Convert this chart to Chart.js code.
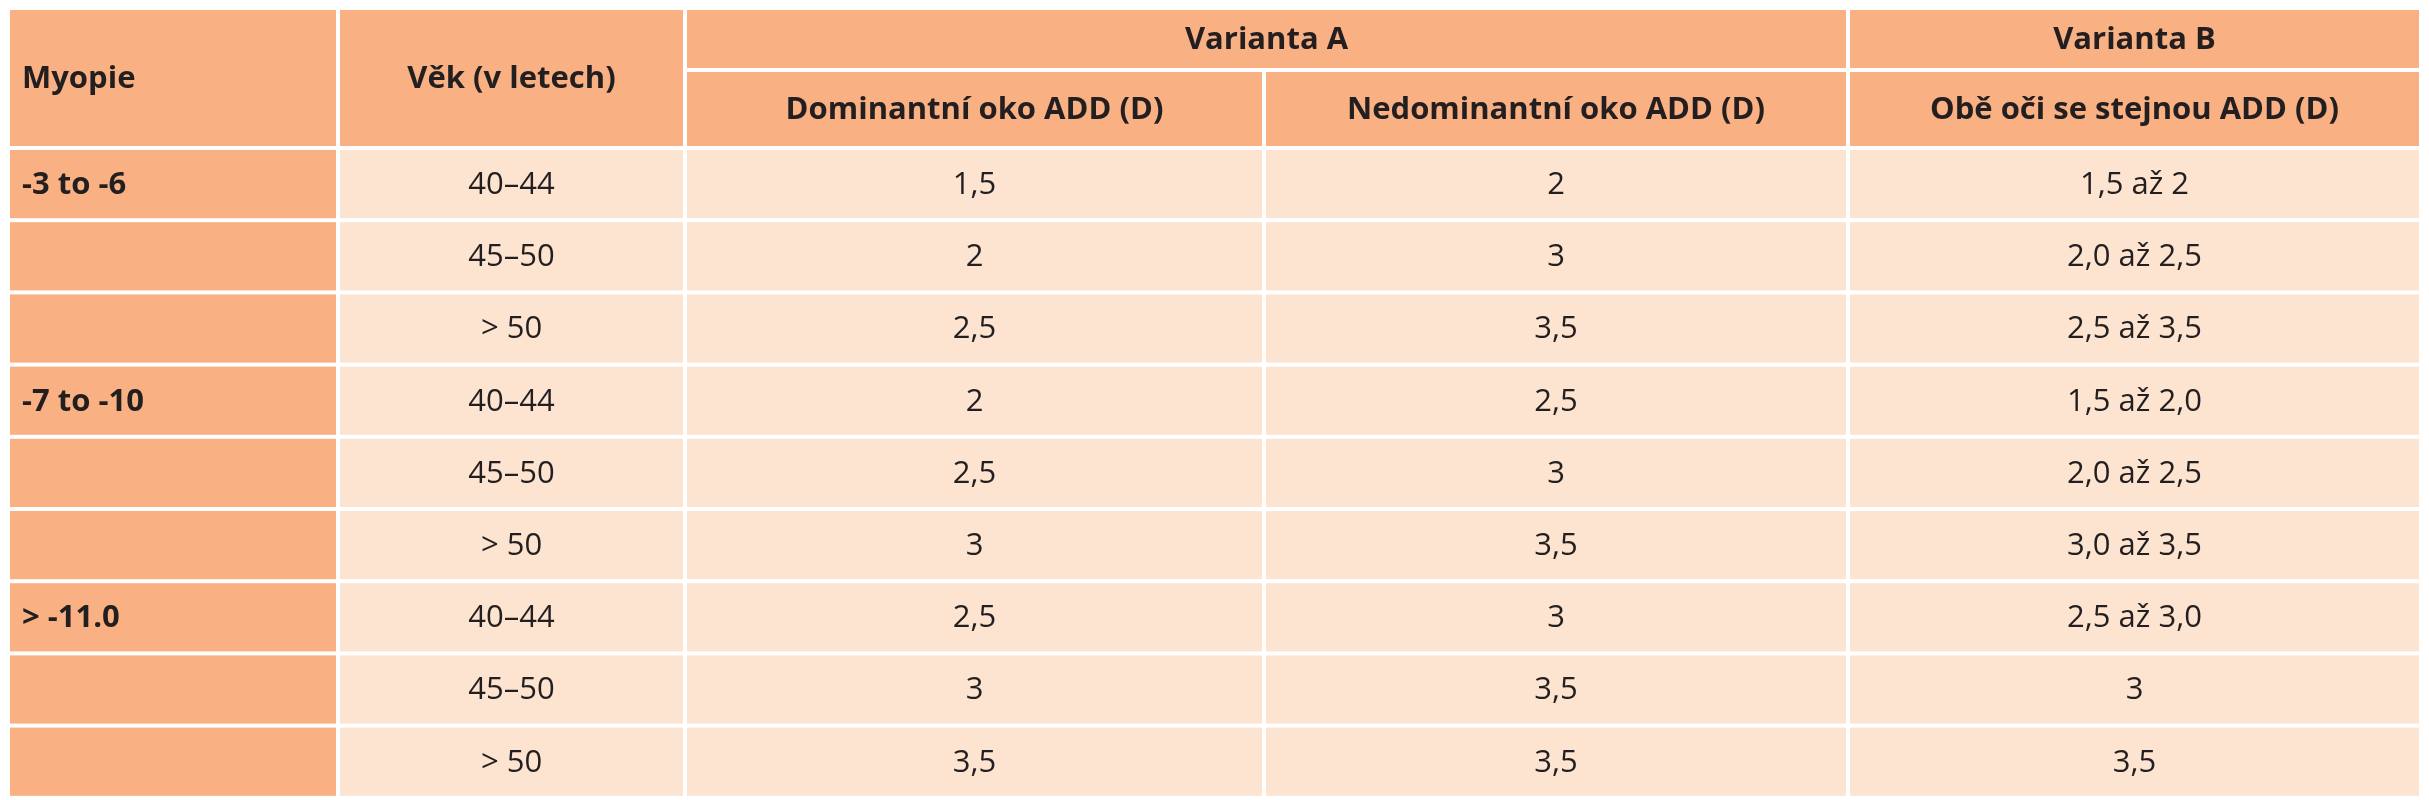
<!DOCTYPE html>
<html><head><meta charset="utf-8">
<script src="https://cdn.jsdelivr.net/npm/chart.js@4"></script>
<style>html,body{margin:0;background:#fff}#wrap{width:2429px;height:800px}</style>
</head><body><div id="wrap"><canvas id="chart"></canvas></div>
<script>
// table content
var groupHeaders = ['Varianta A', 'Varianta B'];
var colHeaders = ['Myopie', 'Věk (v letech)', 'Dominantní oko ADD (D)', 'Nedominantní oko ADD (D)', 'Obě oči se stejnou ADD (D)'];
var myopia = ['-3 to -6', '', '', '-7 to -10', '', '', '> -11.0', '', ''];
var ages = ['40–44', '45–50', '> 50', '40–44', '45–50', '> 50', '40–44', '45–50', '> 50'];
var dominant = ['1,5', '2', '2,5', '2', '2,5', '3', '2,5', '3', '3,5'];
var nondominant = ['2', '3', '3,5', '2,5', '3', '3,5', '3', '3,5', '3,5'];
var both = ['1,5 až 2', '2,0 až 2,5', '2,5 až 3,5', '1,5 až 2,0', '2,0 až 2,5', '3,0 až 3,5', '2,5 až 3,0', '3', '3,5'];

// grid edges (scale units)
var colEdges = [8, 338, 685, 1264, 1848, 2421];
var rowEdges = [8, 70, 148];
for (var i = 1; i <= 9; i++) rowEdges.push(148 + i * 72.2);

var dark = '#F9B183', light = '#FDE4D0', ink = '#231f20';
var font = '"Liberation Sans Narrow", "Open Sans", sans-serif';

var tablePlugin = {
  id: 'table',
  afterDraw: function(chart) {
    var ctx = chart.ctx, xs = chart.scales.x, ys = chart.scales.y;
    function cell(c0, c1, r0, r1, fill, text, bold, align) {
      var x0 = xs.getPixelForValue(colEdges[c0]), x1 = xs.getPixelForValue(colEdges[c1]);
      var y0 = ys.getPixelForValue(rowEdges[r0]), y1 = ys.getPixelForValue(rowEdges[r1]);
      ctx.fillStyle = fill;
      ctx.fillRect(x0 + 2, y0 + 2, x1 - x0 - 4, y1 - y0 - 4);
      if (!text) return;
      ctx.fillStyle = ink;
      ctx.font = (bold ? 'bold ' : '') + '31px ' + font;
      ctx.textBaseline = 'middle';
      ctx.textAlign = align || 'center';
      var tx = align === 'left' ? x0 + 14 : (x0 + x1) / 2;
      ctx.fillText(text, tx, (y0 + y1) / 2 + 1);
    }
    ctx.save();
    cell(0, 1, 0, 2, dark, colHeaders[0], true, 'left');
    cell(1, 2, 0, 2, dark, colHeaders[1], true);
    cell(2, 4, 0, 1, dark, groupHeaders[0], true);
    cell(4, 5, 0, 1, dark, groupHeaders[1], true);
    for (var c = 2; c < 5; c++) cell(c, c + 1, 1, 2, dark, colHeaders[c], true);
    var cols = [ages, dominant, nondominant, both];
    for (var r = 0; r < 9; r++) {
      cell(0, 1, r + 2, r + 3, dark, myopia[r], true, 'left');
      for (var k = 0; k < 4; k++) cell(k + 1, k + 2, r + 2, r + 3, light, cols[k][r], false);
    }
    ctx.restore();
  }
};

var context = document.getElementById('chart').getContext('2d');
var myChart = new Chart(context, {
  type: 'scatter',
  data: { datasets: [{ data: [] }] },
  plugins: [tablePlugin],
  options: {
    responsive: true,
    maintainAspectRatio: false,
    animation: false,
    layout: { padding: 0 },
    plugins: { legend: { display: false }, tooltip: { enabled: false } },
    scales: {
      x: { type: 'linear', min: 0, max: 2429, display: false },
      y: { type: 'linear', min: 0, max: 800, reverse: true, display: false }
    }
  }
});
</script></body></html>
